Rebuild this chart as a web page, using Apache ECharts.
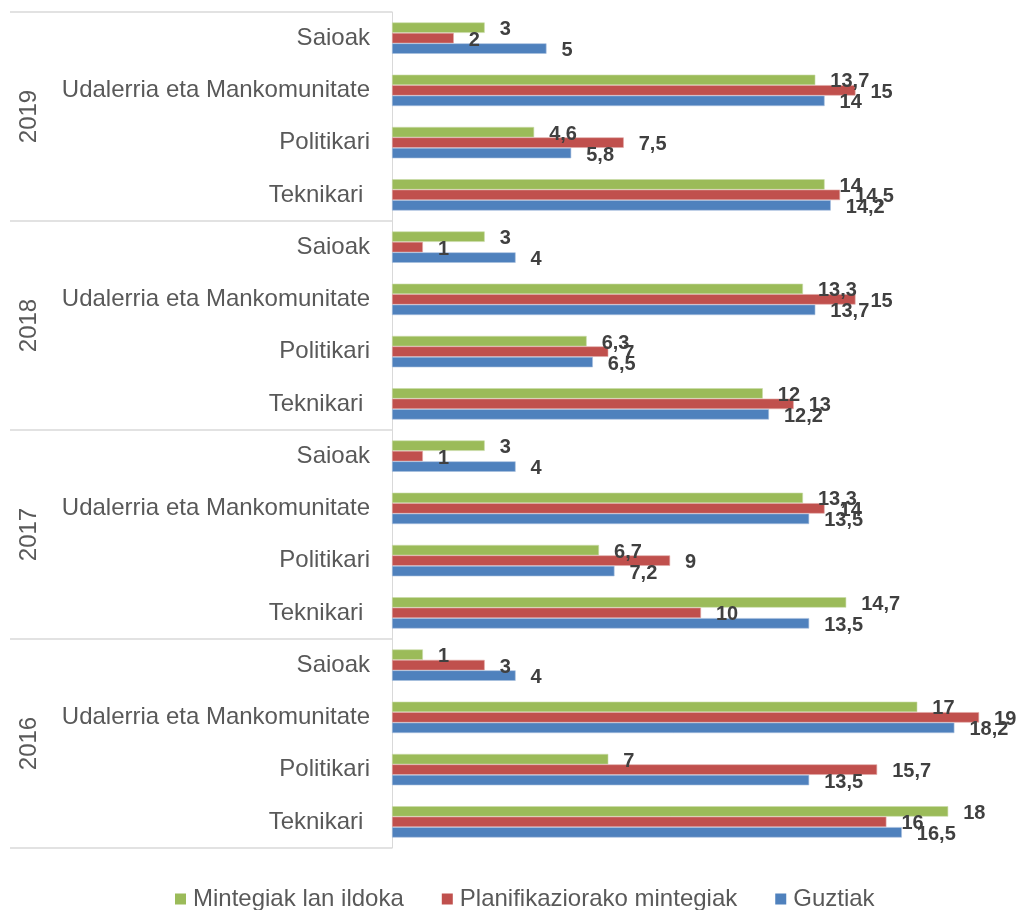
<!DOCTYPE html>
<html>
<head>
<meta charset="utf-8">
<script src="https://cdn.jsdelivr.net/npm/echarts@6/dist/echarts.min.js"></script>
<style>html,body{margin:0;padding:0;background:#fff}#c{width:1020px;height:910px}</style>
</head>
<body>
<div id="c"></div>
<script>
const categories = [
  "Saioak","Udalerria eta Mankomunitate","Politikari","Teknikari ",
  "Saioak","Udalerria eta Mankomunitate","Politikari","Teknikari ",
  "Saioak","Udalerria eta Mankomunitate","Politikari","Teknikari ",
  "Saioak","Udalerria eta Mankomunitate","Politikari","Teknikari "
];
const years = ["2019","2018","2017","2016"];
const seriesNames = ["Mintegiak lan ildoka","Planifikaziorako mintegiak","Guztiak"];
const mintegiak = [3,13.7,4.6,14, 3,13.3,6.3,12, 3,13.3,6.7,14.7, 1,17,7,18];
const planifikazio = [2,15,7.5,14.5, 1,15,7,13, 1,14,9,10, 3,19,15.7,16];
const guztiak = [5,14,5.8,14.2, 4,13.7,6.5,12.2, 4,13.5,7.2,13.5, 4,18.2,13.5,16.5];

const colors = ["#9BBB59","#C0504D","#4F81BD"];
const borders = ["#c9dcaa","#e0a8a6","#a7c0de"];
const fmt = p => String(p.value).replace('.', ',');
const mk = (name, data, i) => ({
  name, type: 'bar', data, yAxisIndex: 0,
  barCategoryGap: '40%', barGap: '0%',
  itemStyle: { color: colors[i], borderColor: borders[i], borderWidth: 0.6 },
  label: { show: true, position: 'right', distance: 15, formatter: fmt,
    fontFamily: 'Liberation Sans', fontWeight: 'bold', fontSize: 20, color: '#404040', offset: [0, 2] }
});

const chart = echarts.init(document.getElementById('c'), null, {renderer: 'canvas'});
chart.setOption({
  animation: false,
  color: colors,
  grid: { left: 392, right: 10, top: 12, bottom: 62, containLabel: false },
  xAxis: { type: 'value', min: 0, max: 20, show: false },
  yAxis: [
    { type: 'category', data: categories, inverse: true,
      axisLine: { show: true, lineStyle: { color: '#d9d9d9', width: 1 } },
      axisTick: { show: false },
      axisLabel: { fontFamily: 'Liberation Sans', fontSize: 24, color: '#595959', margin: 22 } },
    { type: 'category', data: years, inverse: true, position: 'left',
      axisLine: { show: false },
      axisTick: { show: true, length: 382, lineStyle: { color: '#d9d9d9', width: 1.5 } },
      axisLabel: { rotate: 90, margin: 351, fontFamily: 'Liberation Sans', fontSize: 24, color: '#595959' } }
  ],
  legend: { top: 882, left: 170, icon: 'rect', itemWidth: 11, itemHeight: 11, itemGap: 38,
    itemStyle: { borderWidth: 0 },
    textStyle: { fontFamily: 'Liberation Sans', fontSize: 24, color: '#595959', padding: [0, 0, 0, 2] },
    data: seriesNames },
  series: [mk(seriesNames[0], mintegiak, 0), mk(seriesNames[1], planifikazio, 1), mk(seriesNames[2], guztiak, 2)]
});
</script>
</body>
</html>
